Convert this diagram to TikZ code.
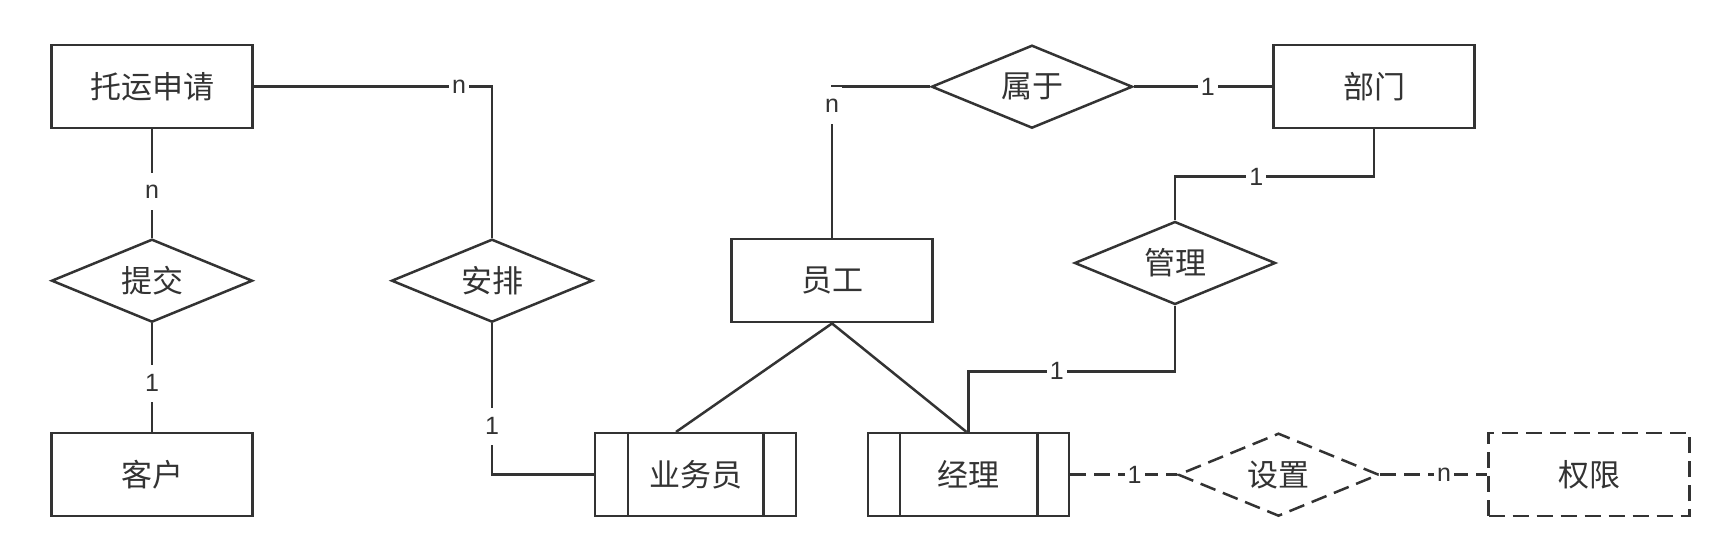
\documentclass[tikz,border=0pt]{standalone}
\usepackage{fontspec}
\setmainfont{Liberation Sans}
\newfontfamily\cjk{Noto Sans CJK SC}
\usetikzlibrary{shapes.geometric}
\definecolor{ink}{HTML}{333333}
\begin{document}
\begin{tikzpicture}[x=1pt,y=-1pt,
  line/.style={draw=ink, line width=2.5pt},
  ent/.style={draw=ink, line width=2.5pt, rectangle, minimum width=201pt, minimum height=83pt, inner sep=0pt, font=\cjk\fontsize{31}{37}\selectfont, text=ink, fill=white},
  rel/.style={ent, diamond, aspect=2.4},
  lbl/.style={fill=white, font=\fontsize{25}{30}\selectfont, text=ink, inner xsep=3pt, inner ysep=0pt, minimum height=37pt},
  dsh/.style={dash pattern=on 16pt off 8pt}
]
\useasboundingbox[fill=white] (0,0) rectangle (1724,556);

% entities and relationships
\node[ent] (tysq) at (152,86.7) {托运申请};
\node[rel] (tj) at (152,280.7) {提交};
\node[ent] (kh) at (152,474.7) {客户};
\node[rel] (ap) at (492,280.7) {安排};
\node[ent] (yg) at (832,280.7) {员工};
\node[rel] (sy) at (1032,86.7) {属于};
\node[ent] (bm) at (1374,86.7) {部门};
\node[rel] (gl) at (1175,263) {管理};
\node[ent] (ywy) at (695.5,474.7) {业务员};
\node[ent] (jl) at (968.5,474.7) {经理};
\node[rel, dsh] (sz) at (1278.5,474.7) {设置};
\node[ent, dsh] (qx) at (1589,474.7) {权限};

% inner bars of weak entities
\draw[line] ([xshift=34pt]ywy.north west) -- ([xshift=34pt]ywy.south west);
\draw[line] ([xshift=-34pt]ywy.north east) -- ([xshift=-34pt]ywy.south east);
\draw[line] ([xshift=33pt]jl.north west) -- ([xshift=33pt]jl.south west);
\draw[line] ([xshift=-33pt]jl.north east) -- ([xshift=-33pt]jl.south east);

% connectors
\draw[line] (tysq.east) -| node[lbl, pos=0.431] {n} (ap.north);
\draw[line] (tysq.south) -- node[lbl, pos=0.57] {n} (tj.north);
\draw[line] (tj.south) -- node[lbl, pos=0.55] {1} (kh.north);
\draw[line] (ap.south) |- node[lbl, pos=0.339] {1} (ywy.west);
\draw[line] (yg.north) |- node[lbl, pos=0.437] {n} (sy.west);
\draw[line] (sy.east) -- node[lbl, pos=0.535] {1} (bm.west);
\draw[line] (bm.south) -- ++(0,47) -| node[lbl, pos=0.296] {1} (gl.north);
\draw[line] (gl.south) -- ++(0,65.6) -| node[lbl, pos=0.286] {1} (jl.north);
\draw[line] (yg.south) -- ([xshift=-19.5pt]ywy.north);
\draw[line] (yg.south) -- ([xshift=-2pt]jl.north);
\draw[line, dsh] (jl.east) -- node[lbl, pos=0.604] {1} (sz.west);
\draw[line, dsh] (sz.east) -- node[lbl, pos=0.597] {n} (qx.west);
\end{tikzpicture}
\end{document}
